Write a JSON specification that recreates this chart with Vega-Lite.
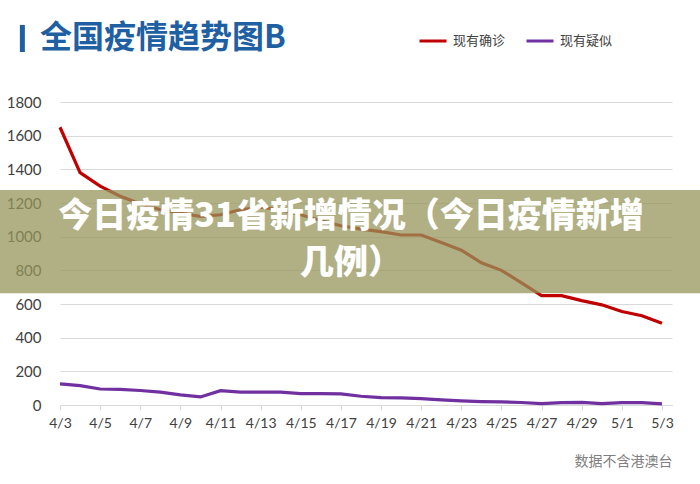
{
  "$schema": "https://vega.github.io/schema/vega-lite/v6.json",
  "width": 612,
  "height": 303,
  "autosize": {"type": "none"},
  "padding": {"left": 60, "top": 102, "right": 28, "bottom": 79},
  "background": "white",
  "config": {
    "view": {"stroke": null},
    "axisY": {"labelOverlap": false, "labelFlush": false, "labelBound": false, "tickCount": 10},
    "axisX": {"labelOverlap": false, "labelFlush": false}
  },
  "data": {
    "values": [
      {"date": "2020/04/03", "series": "现有确诊", "value": 1650},
      {"date": "2020/04/04", "series": "现有确诊", "value": 1380},
      {"date": "2020/04/05", "series": "现有确诊", "value": 1300},
      {"date": "2020/04/06", "series": "现有确诊", "value": 1240},
      {"date": "2020/04/07", "series": "现有确诊", "value": 1195},
      {"date": "2020/04/08", "series": "现有确诊", "value": 1160},
      {"date": "2020/04/09", "series": "现有确诊", "value": 1140},
      {"date": "2020/04/10", "series": "现有确诊", "value": 1120},
      {"date": "2020/04/11", "series": "现有确诊", "value": 1130},
      {"date": "2020/04/12", "series": "现有确诊", "value": 1160},
      {"date": "2020/04/13", "series": "现有确诊", "value": 1175},
      {"date": "2020/04/14", "series": "现有确诊", "value": 1160},
      {"date": "2020/04/15", "series": "现有确诊", "value": 1130},
      {"date": "2020/04/16", "series": "现有确诊", "value": 1095},
      {"date": "2020/04/17", "series": "现有确诊", "value": 1065},
      {"date": "2020/04/18", "series": "现有确诊", "value": 1045},
      {"date": "2020/04/19", "series": "现有确诊", "value": 1030},
      {"date": "2020/04/20", "series": "现有确诊", "value": 1010},
      {"date": "2020/04/21", "series": "现有确诊", "value": 1010},
      {"date": "2020/04/22", "series": "现有确诊", "value": 965},
      {"date": "2020/04/23", "series": "现有确诊", "value": 920},
      {"date": "2020/04/24", "series": "现有确诊", "value": 845},
      {"date": "2020/04/25", "series": "现有确诊", "value": 800},
      {"date": "2020/04/26", "series": "现有确诊", "value": 725},
      {"date": "2020/04/27", "series": "现有确诊", "value": 650},
      {"date": "2020/04/28", "series": "现有确诊", "value": 650},
      {"date": "2020/04/29", "series": "现有确诊", "value": 620},
      {"date": "2020/04/30", "series": "现有确诊", "value": 595},
      {"date": "2020/05/01", "series": "现有确诊", "value": 555},
      {"date": "2020/05/02", "series": "现有确诊", "value": 530},
      {"date": "2020/05/03", "series": "现有确诊", "value": 485},
      {"date": "2020/04/03", "series": "现有疑似", "value": 125},
      {"date": "2020/04/04", "series": "现有疑似", "value": 115},
      {"date": "2020/04/05", "series": "现有疑似", "value": 95},
      {"date": "2020/04/06", "series": "现有疑似", "value": 93},
      {"date": "2020/04/07", "series": "现有疑似", "value": 86},
      {"date": "2020/04/08", "series": "现有疑似", "value": 76},
      {"date": "2020/04/09", "series": "现有疑似", "value": 60},
      {"date": "2020/04/10", "series": "现有疑似", "value": 48},
      {"date": "2020/04/11", "series": "现有疑似", "value": 85},
      {"date": "2020/04/12", "series": "现有疑似", "value": 77},
      {"date": "2020/04/13", "series": "现有疑似", "value": 76},
      {"date": "2020/04/14", "series": "现有疑似", "value": 76},
      {"date": "2020/04/15", "series": "现有疑似", "value": 68},
      {"date": "2020/04/16", "series": "现有疑似", "value": 67},
      {"date": "2020/04/17", "series": "现有疑似", "value": 66},
      {"date": "2020/04/18", "series": "现有疑似", "value": 52},
      {"date": "2020/04/19", "series": "现有疑似", "value": 44},
      {"date": "2020/04/20", "series": "现有疑似", "value": 42},
      {"date": "2020/04/21", "series": "现有疑似", "value": 38},
      {"date": "2020/04/22", "series": "现有疑似", "value": 30},
      {"date": "2020/04/23", "series": "现有疑似", "value": 24},
      {"date": "2020/04/24", "series": "现有疑似", "value": 20},
      {"date": "2020/04/25", "series": "现有疑似", "value": 18},
      {"date": "2020/04/26", "series": "现有疑似", "value": 15},
      {"date": "2020/04/27", "series": "现有疑似", "value": 8},
      {"date": "2020/04/28", "series": "现有疑似", "value": 14},
      {"date": "2020/04/29", "series": "现有疑似", "value": 15},
      {"date": "2020/04/30", "series": "现有疑似", "value": 8},
      {"date": "2020/05/01", "series": "现有疑似", "value": 14},
      {"date": "2020/05/02", "series": "现有疑似", "value": 14},
      {"date": "2020/05/03", "series": "现有疑似", "value": 7}
    ]
  },
  "layer": [
    {
      "mark": {"type": "line", "strokeWidth": 3.2, "clip": false},
      "encoding": {
        "x": {
          "field": "date",
          "type": "temporal",
          "scale": {
            "domain": [
              {"year": 2020, "month": 4, "date": 3},
              {"year": 2020, "month": 5, "date": 3, "hours": 12}
            ],
            "nice": false
          },
          "axis": {
            "title": "数据不含港澳台",
            "titleAnchor": "end",
            "titleFont": "Noto Sans CJK SC",
            "titleFontSize": 14,
            "titleFontWeight": "normal",
            "titleColor": "#808080",
            "titlePadding": 24,
            "format": "%-m/%-d",
            "tickCount": {"interval": "day", "step": 2},
            "grid": false,
            "domainColor": "#d9d9d9",
            "tickColor": "#d9d9d9",
            "tickSize": 5,
            "labelFont": "Lato",
            "labelFontSize": 14,
            "labelColor": "#404040",
            "labelPadding": 6,
            "labelFlush": false,
            "labelOverlap": false
          }
        },
        "y": {
          "field": "value",
          "type": "quantitative",
          "scale": {"domain": [0, 1800], "nice": false},
          "axis": {
            "title": null,
            "values": [0, 200, 400, 600, 800, 1000, 1200, 1400, 1600, 1800],
            "format": "d",
            "labelOverlap": false,
            "grid": true,
            "gridColor": "#d9d9d9",
            "domain": false,
            "ticks": false,
            "labelPadding": 19,
            "labelFont": "Lato",
            "labelFontSize": 15,
            "labelColor": "#404040"
          }
        },
        "color": {
          "field": "series",
          "type": "nominal",
          "scale": {"domain": ["现有确诊", "现有疑似"], "range": ["#c00000", "#7030a0"]},
          "legend": {
            "title": null,
            "orient": "none",
            "legendX": 358,
            "legendY": -76,
            "direction": "horizontal",
            "symbolType": "stroke",
            "symbolStrokeWidth": 3,
            "symbolSize": 729,
            "labelFont": "Noto Sans CJK SC",
            "labelFontSize": 13,
            "labelColor": "#404040",
            "columnPadding": 14,
            "labelOffset": 5
          }
        }
      }
    },
    {
      "data": {"values": [{}]},
      "mark": {"type": "rect", "fill": "#95965b", "opacity": 0.75, "clip": false},
      "encoding": {
        "x": {"datum": {"year": 2020, "month": 3, "date": 30}, "type": "temporal"},
        "x2": {"datum": {"year": 2020, "month": 5, "date": 6}},
        "y": {"datum": 1277, "type": "quantitative"},
        "y2": {"datum": 664}
      }
    },
    {
      "data": {"values": [{}]},
      "mark": {
        "type": "text",
        "text": ["今日疫情31省新增情况（今日疫情新增", "几例）"],
        "font": "Noto Sans CJK SC",
        "fontSize": 34,
        "fontWeight": 900,
        "fill": "white",
        "align": "center",
        "baseline": "middle",
        "lineHeight": 47,
        "clip": false
      },
      "encoding": {
        "x": {"datum": {"year": 2020, "month": 4, "date": 17, "hours": 12}, "type": "temporal"},
        "y": {"datum": 1117, "type": "quantitative"}
      }
    },
    {
      "data": {"values": [{}]},
      "mark": {
        "type": "text",
        "text": "全国疫情趋势图B",
        "font": "Noto Sans CJK SC",
        "fontSize": 32,
        "fontWeight": "bold",
        "fill": "#1f60a3",
        "align": "left",
        "baseline": "middle",
        "clip": false
      },
      "encoding": {
        "x": {"datum": {"year": 2020, "month": 4, "date": 2}, "type": "temporal"},
        "y": {"datum": 2181, "type": "quantitative"}
      }
    },
    {
      "data": {"values": [{}]},
      "mark": {"type": "rule", "color": "#1f60a3", "strokeWidth": 5, "clip": false},
      "encoding": {
        "x": {"datum": {"year": 2020, "month": 4, "date": 1, "hours": 3}, "type": "temporal"},
        "y": {"datum": 2258, "type": "quantitative"},
        "y2": {"datum": 2097}
      }
    }
  ]
}
